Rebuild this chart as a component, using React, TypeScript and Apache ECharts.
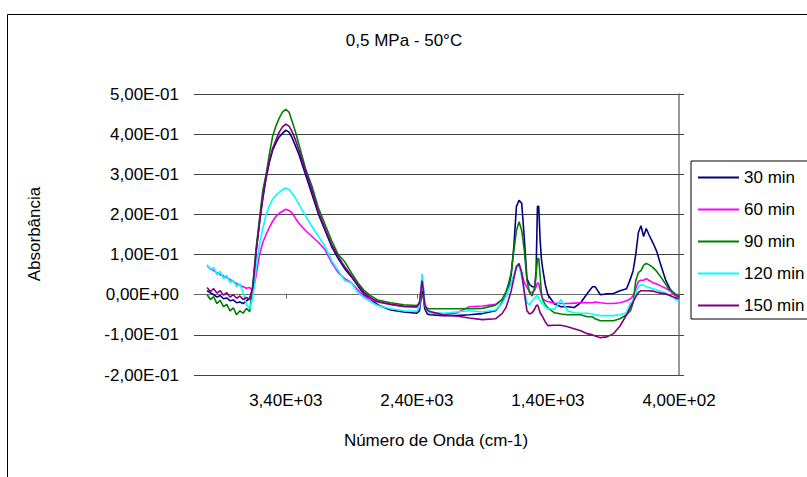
import React, { useEffect, useRef } from "react";
import * as echarts from "echarts";

const FONT = '"Liberation Sans", Arial, sans-serif';

const titleText = "0,5 MPa - 50°C";
const xAxisTitle = "Número de Onda (cm-1)";
const yAxisTitle = "Absorbância";
const seriesNames = ["30 min", "60 min", "90 min", "120 min", "150 min"];
const seriesColors = ["#000080", "#FF00FF", "#008000", "#00FFFF", "#800080"];
const xTickValues = [3400, 2400, 1400, 400];

const waveNumbers = [
  4000, 3975, 3950, 3925, 3900, 3875, 3850, 3825, 3800, 3775, 3750, 3725, 3700, 3675, 3650,
  3625, 3600, 3575, 3550, 3525, 3500, 3475, 3450, 3425, 3400, 3375, 3350, 3325, 3300, 3250,
  3200, 3150, 3100, 3050, 3000, 2950, 2900, 2850, 2800, 2750, 2700, 2600, 2500, 2400, 2380,
  2360, 2350, 2340, 2320, 2300, 2200, 2100, 2000, 1900, 1800, 1750, 1720, 1700, 1680, 1660,
  1640, 1620, 1600, 1580, 1560, 1540, 1520, 1500, 1490, 1480, 1470, 1460, 1450, 1440, 1420,
  1400, 1350, 1300, 1250, 1200, 1150, 1100, 1060, 1040, 1000, 950, 900, 850, 800, 770,
  750, 730, 710, 690, 670, 650, 630, 600, 570, 540, 500, 470, 440, 420, 400,
];

const abs30 = [
  0.01, 0.005, 0.0, -0.006, -0.002, -0.01, -0.008, -0.015, -0.013, -0.02, -0.018, -0.022, -0.015, -0.01, 0.02,
  0.11, 0.18, 0.24, 0.29, 0.33, 0.36, 0.378, 0.393, 0.402, 0.41, 0.405, 0.39, 0.37, 0.35, 0.3,
  0.25, 0.2, 0.16, 0.12, 0.09, 0.065, 0.045, 0.022, 0.0, -0.012, -0.025, -0.038, -0.043, -0.046, -0.04,
  0.01, -0.005, -0.035, -0.048, -0.05, -0.052, -0.052, -0.05, -0.047, -0.04, -0.02, 0.003, 0.02, 0.05, 0.12,
  0.22, 0.235, 0.228, 0.14, 0.04, 0.025, 0.02, 0.02, 0.06, 0.22, 0.22, 0.14, 0.09, 0.065, 0.025,
  0.0, -0.023, -0.03, -0.03, -0.032, -0.02, 0.003, 0.02, 0.02, 0.0, 0.002, 0.003, 0.01, 0.015, 0.04,
  0.06, 0.1, 0.155, 0.172, 0.145, 0.165, 0.15, 0.13, 0.108, 0.075, 0.035, 0.015, 0.003, -0.002, -0.005,
];

const abs60 = [
  0.072, 0.065, 0.06, 0.055, 0.05, 0.047, 0.042, 0.038, 0.032, 0.028, 0.023, 0.02, 0.016, 0.018, 0.008,
  0.05, 0.1, 0.13, 0.15, 0.168, 0.183, 0.195, 0.203, 0.208, 0.213, 0.21, 0.203, 0.19, 0.178, 0.16,
  0.145, 0.13, 0.112, 0.08, 0.055, 0.04, 0.03, 0.012, -0.005, -0.012, -0.018, -0.024, -0.029, -0.031, -0.02,
  0.035, 0.015, -0.02, -0.038, -0.044, -0.049, -0.046, -0.03, -0.028, -0.024, -0.012, 0.0, 0.015, 0.028, 0.048,
  0.07, 0.072, 0.055, 0.03, 0.018, 0.008, 0.005, 0.012, 0.02, 0.03, 0.028, 0.012, -0.002, -0.01, -0.015,
  -0.017, -0.021, -0.022, -0.022, -0.021, -0.02, -0.02, -0.02, -0.018, -0.02, -0.022, -0.022, -0.02, -0.015, -0.01,
  -0.003, 0.015, 0.033, 0.036, 0.036, 0.04, 0.036, 0.03, 0.027, 0.022, 0.016, 0.01, 0.0, -0.005, -0.008,
];

const abs90 = [
  0.0, -0.012, -0.005, -0.022, -0.014, -0.03, -0.024, -0.04, -0.033, -0.05, -0.04, -0.046, -0.034, -0.042, 0.03,
  0.12, 0.19, 0.26, 0.3, 0.35, 0.395, 0.42, 0.44, 0.455, 0.462, 0.455, 0.43, 0.405, 0.375, 0.315,
  0.27, 0.215, 0.175, 0.135, 0.1, 0.082, 0.055, 0.03, 0.01, -0.003, -0.013, -0.02, -0.025, -0.027, -0.02,
  0.0, -0.008, -0.028, -0.034, -0.035, -0.035, -0.035, -0.035, -0.034, -0.026, -0.012, 0.008, 0.028, 0.055, 0.11,
  0.16, 0.182, 0.16, 0.11, 0.035, 0.005, -0.003, 0.02, 0.05, 0.09, 0.09, 0.05, 0.005, -0.012, -0.025,
  -0.033, -0.045, -0.048, -0.05, -0.05, -0.05, -0.055, -0.055, -0.06, -0.065, -0.065, -0.065, -0.06, -0.05, -0.04,
  -0.02, 0.035, 0.055, 0.06, 0.073, 0.078, 0.075, 0.068, 0.058, 0.045, 0.025, 0.012, 0.005, 0.0, -0.003,
];

const abs120 = [
  0.075, 0.062, 0.068, 0.05, 0.058, 0.04, 0.048, 0.03, 0.036, 0.02, 0.027, 0.005, -0.025, -0.035, -0.005,
  0.07, 0.125, 0.165, 0.2, 0.222, 0.238, 0.248, 0.255, 0.262, 0.266, 0.262, 0.252, 0.24, 0.225, 0.197,
  0.17, 0.145, 0.12, 0.085, 0.06, 0.035, 0.03, 0.005, -0.008, -0.018, -0.027, -0.035, -0.04, -0.041, -0.03,
  0.052, 0.02, -0.025, -0.04, -0.044, -0.046, -0.043, -0.04, -0.043, -0.038, -0.022, -0.005, 0.012, 0.028, 0.048,
  0.07, 0.07, 0.045, 0.01, -0.02, -0.025, -0.015, -0.008, -0.004, -0.003, -0.008, -0.015, -0.02, -0.022, -0.03,
  -0.035, -0.036, -0.012, -0.04, -0.045, -0.046, -0.046, -0.048, -0.05, -0.052, -0.052, -0.052, -0.05, -0.045, -0.02,
  -0.018, 0.0, 0.02, 0.025, 0.024, 0.02, 0.018, 0.015, 0.012, 0.008, 0.004, -0.002, -0.008, -0.013, -0.015,
];

const abs150 = [
  0.018, 0.008, 0.015, 0.004, 0.01, -0.001, 0.005, -0.006, 0.0, -0.009, -0.003, -0.012, -0.007, -0.012, 0.02,
  0.11, 0.18, 0.245, 0.295, 0.335, 0.365, 0.385, 0.405, 0.418, 0.425, 0.42, 0.405, 0.385, 0.36, 0.31,
  0.26, 0.205, 0.165, 0.125, 0.095, 0.07, 0.048, 0.025, 0.005, -0.008, -0.017, -0.024, -0.029, -0.03, -0.02,
  0.035, 0.01, -0.025, -0.038, -0.042, -0.05, -0.053, -0.058, -0.062, -0.06, -0.047, -0.032, -0.012, 0.01, 0.04,
  0.07, 0.078, 0.055, 0.005, -0.04, -0.048, -0.045, -0.035, -0.028, -0.025, -0.033, -0.045, -0.05, -0.055, -0.068,
  -0.077, -0.076, -0.076, -0.08, -0.085, -0.09, -0.097, -0.1, -0.103, -0.107, -0.105, -0.097, -0.078, -0.05, -0.03,
  -0.018, -0.005, 0.005, 0.01, 0.01, 0.01, 0.01, 0.009, 0.006, 0.004, 0.002, -0.002, -0.006, -0.009, -0.01,
];

const seriesValues = [abs30, abs60, abs90, abs120, abs150];

function sci(v: number): string {
  const r = Number(Number(v).toPrecision(10));
  if (Math.abs(r) < 1e-12) return "0,00E+00";
  const s = r.toExponential(2);
  const [m, e] = s.split("e");
  const ev = parseInt(e, 10);
  const sign = ev < 0 ? "-" : "+";
  const ea = String(Math.abs(ev)).padStart(2, "0");
  return m.replace(".", ",") + "E" + sign + ea;
}

export default function App() {
  const ref = useRef<HTMLDivElement>(null);

  useEffect(() => {
    if (!ref.current) return;
    const chart = echarts.init(ref.current, undefined, { renderer: "svg" });
    const txt = { fill: "#000", fontSize: 17, fontFamily: FONT };
    const option: any = {
      animation: false,
      backgroundColor: "#ffffff",
      color: seriesColors,
      grid: { left: 194, right: 128, top: 94, bottom: 102, containLabel: false, outerBoundsMode: "none" },
      xAxis: {
        type: "value",
        min: 400,
        max: 4100,
        inverse: true,
        axisLine: { onZero: true, onZeroAxisIndex: 0, lineStyle: { color: "#6a6a6a", width: 1 } },
        axisTick: { show: true, customValues: xTickValues, length: 4, lineStyle: { color: "#6a6a6a" } },
        axisLabel: { customValues: xTickValues, margin: 17, formatter: sci, color: "#000", fontSize: 17, fontFamily: FONT },
        splitLine: { show: false },
      },
      yAxis: [
        {
          type: "value",
          min: -0.2,
          max: 0.5,
          interval: 0.1,
          position: "left",
          axisLine: { show: false },
          axisTick: { show: false },
          axisLabel: { margin: 15, formatter: sci, color: "#000", fontSize: 17, fontFamily: FONT },
          splitLine: { show: true, lineStyle: { color: "#444", width: 1 } },
        },
        {
          type: "value",
          min: -0.2,
          max: 0.5,
          interval: 0.1,
          position: "right",
          axisLine: { show: true, onZero: false, lineStyle: { color: "#777", width: 1.5 } },
          axisTick: { show: true, inside: false, length: 5, lineStyle: { color: "#444" } },
          axisLabel: { show: false },
          splitLine: { show: false },
        },
      ],
      legend: {
        orient: "vertical",
        left: 691,
        top: 161,
        padding: [8, 30, 5, 7],
        itemGap: 15,
        itemWidth: 41,
        itemHeight: 2,
        icon: "rect",
        borderColor: "#000",
        borderWidth: 1,
        backgroundColor: "#fff",
        textStyle: { color: "#000", fontSize: 17, fontFamily: FONT },
        data: seriesNames,
      },
      graphic: [
        {
          type: "rect",
          shape: { x: 7.5, y: 14.5, width: 900, height: 600 },
          style: { fill: "none", stroke: "#000", lineWidth: 1 },
          silent: true,
        },
        {
          type: "text",
          x: 404,
          y: 40,
          style: { ...txt, text: titleText, align: "center", verticalAlign: "middle", textAlign: "center", textVerticalAlign: "middle" },
        },
        {
          type: "text",
          x: 436,
          y: 440,
          style: { ...txt, text: xAxisTitle, align: "center", verticalAlign: "middle", textAlign: "center", textVerticalAlign: "middle" },
        },
        {
          type: "text",
          x: 34,
          y: 234,
          rotation: Math.PI / 2,
          style: { ...txt, text: yAxisTitle, align: "center", verticalAlign: "middle", textAlign: "center", textVerticalAlign: "middle" },
        },
      ],
      series: seriesNames.map((name, i) => ({
        name,
        type: "line",
        xAxisIndex: 0,
        yAxisIndex: 0,
        showSymbol: false,
        symbol: "none",
        lineStyle: { width: 1.6, color: seriesColors[i] },
        itemStyle: { color: seriesColors[i] },
        data: waveNumbers.map((w, k) => [w, seriesValues[i][k]]),
      })),
    };
    chart.setOption(option);
    return () => chart.dispose();
  }, []);

  return (
    <div
      ref={ref}
      style={{ position: "absolute", left: 0, top: 0, width: 807, height: 477, background: "#fff" }}
    />
  );
}
